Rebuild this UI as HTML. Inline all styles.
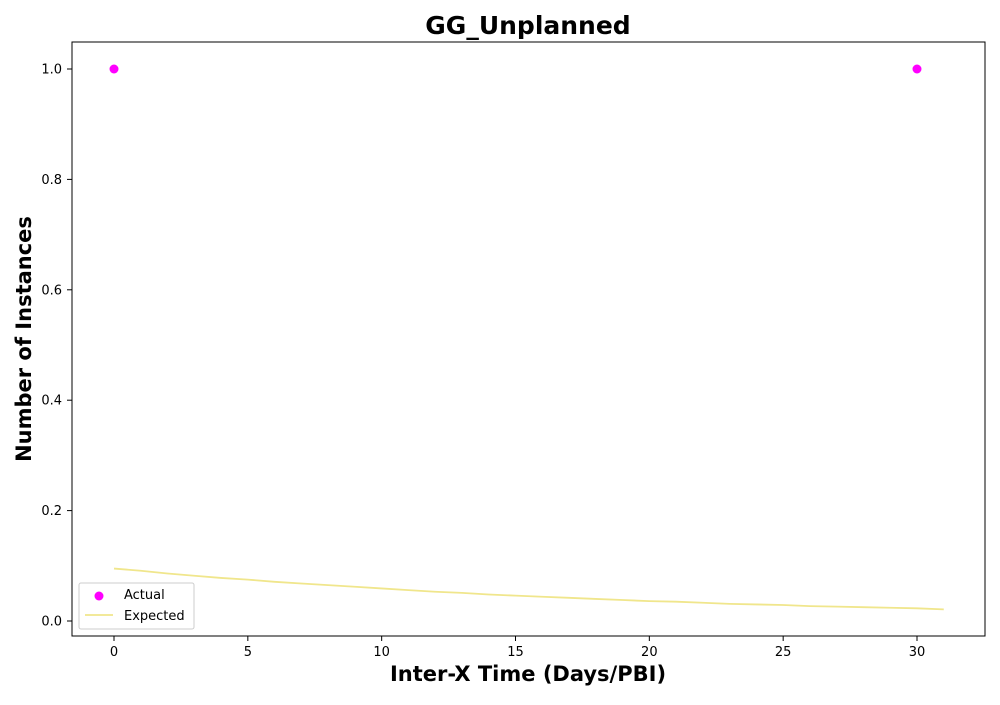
<!DOCTYPE html>
<html><head><meta charset="utf-8"><style>
body{margin:0;background:#fff}
svg text{font-family:"DejaVu Sans","Liberation Sans",sans-serif}
</style></head><body>
<svg id="chart" width="1000" height="700" xmlns="http://www.w3.org/2000/svg">
<rect width="1000" height="700" fill="#fff"/>
<text x="528" y="34" text-anchor="middle" font-size="25" font-weight="bold">GG_Unplanned</text>
<text x="528" y="681" text-anchor="middle" font-size="21" font-weight="bold">Inter-X Time (Days/PBI)</text>
<text transform="translate(31,339) rotate(-90)" text-anchor="middle" font-size="21" font-weight="bold">Number of Instances</text>
<g id="ticks"></g>
<g id="marks"></g>
<rect x="72" y="42" width="913" height="594" fill="none" stroke="#000" stroke-width="1"/>
<g>
<rect x="79" y="583" width="115" height="46" fill="#fff" stroke="#ccc" rx="2"/>
<circle cx="99" cy="596" r="4.5" fill="#ff00ff"/>
<text x="124" y="599" font-size="13">Actual</text>
<line x1="85" y1="615" x2="113" y2="615" stroke="#f0e68c" stroke-width="1.8"/>
<text x="124" y="620" font-size="13">Expected</text>
</g>
</svg>
<script>
const xTicks=[0,5,10,15,20,25,30];
const yTicks=[0.0,0.2,0.4,0.6,0.8,1.0];
const actualX=[0,30];
const actualY=[1,1];
const expectedX=[0,1,2,3,4,5,6,7,8,9,10,11,12,13,14,15,16,17,18,19,20,21,22,23,24,25,26,27,28,29,30,31];
const expectedY=[0.095,0.091,0.086,0.082,0.078,0.075,0.071,0.068,0.065,0.062,0.059,0.056,0.053,0.051,0.048,0.046,0.044,0.042,0.040,0.038,0.036,0.035,0.033,0.031,0.030,0.029,0.027,0.026,0.025,0.024,0.023,0.021];
const NS="http://www.w3.org/2000/svg";
const sx=v=>114+v*(917-114)/30;
const sy=v=>621-v*552;
const tg=document.getElementById('ticks'),mg=document.getElementById('marks');
function mk(t,a,p){const e=document.createElementNS(NS,t);for(const k in a)e.setAttribute(k,a[k]);p.appendChild(e);return e;}
xTicks.forEach(v=>{
 const l=mk('line',{x1:sx(v),x2:sx(v),y1:636,y2:641,stroke:'#000'},tg);
 
 
 const t=mk('text',{x:sx(v),y:656,'text-anchor':'middle','font-size':13},tg);t.textContent=v;
 
 
});
yTicks.forEach(v=>{
 const l=mk('line',{x1:67,x2:72,y1:sy(v),y2:sy(v),stroke:'#000'},tg);
 
 
 const t=mk('text',{x:62,y:sy(v)+4.5,'text-anchor':'end','font-size':13},tg);t.textContent=v.toFixed(1);
 
 
});
const p=mk('polyline',{points:expectedX.map((x,i)=>sx(x)+','+sy(expectedY[i])).join(' '),fill:'none',stroke:'#f0e68c','stroke-width':1.8},mg);


actualX.forEach((x,i)=>{
 const c=mk('circle',{cx:sx(x),cy:sy(actualY[i]),r:4.5,fill:'#ff00ff'},mg);
 
 
});
</script>
</body></html>
